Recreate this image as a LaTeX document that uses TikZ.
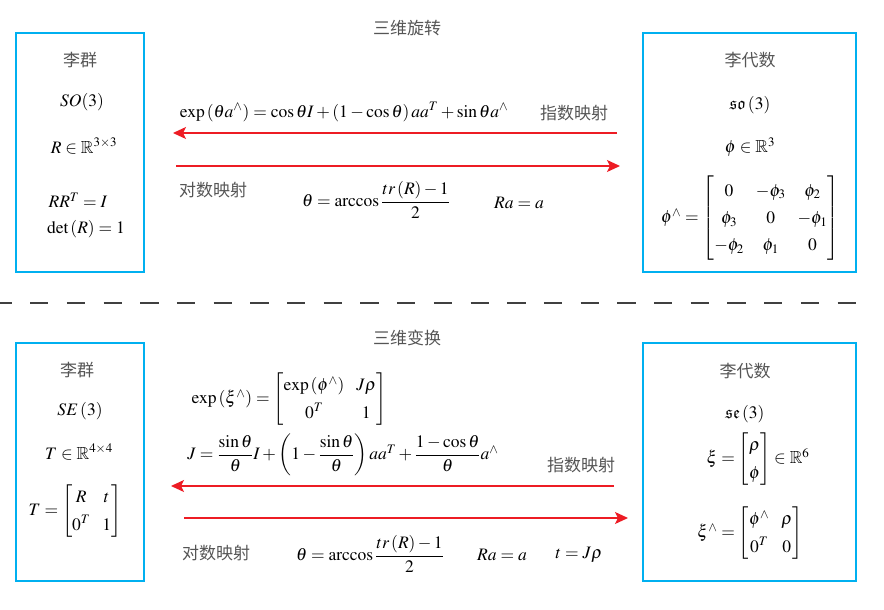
\documentclass[tikz,border=0pt]{standalone}
\usepackage{amsmath,amssymb}
\usepackage{mathptmx}
\usepackage{xcolor}
\usepackage{fontspec}
\setmainfont{Liberation Serif}
\newfontfamily\cjk{Noto Sans CJK SC}
\usetikzlibrary{arrows.meta,positioning}
\definecolor{boxblue}{RGB}{0,176,240}
\definecolor{mapred}{RGB}{237,28,36}
\definecolor{txtgray}{RGB}{85,85,85}
\renewcommand{\arraystretch}{1.3}
\setlength{\arraycolsep}{6pt}
\tikzset{
	>={Stealth[length=13pt,width=12pt,inset=3pt]},
	liebox/.style = {
			draw            = boxblue,
			line width      = 1.5pt,
			inner sep       = 0pt,
		},
	cn/.style = {
			font = \cjk\fontsize{17}{20}\selectfont,
			text = txtgray,
			inner sep = 0pt,
		},
	eq/.style = {
			font = \fontsize{17.5}{21}\selectfont,
			inner sep = 0pt,
		},
	maparrow/.style = {->, draw = mapred, line width = 1.3pt},
}

\begin{document}
\begin{tikzpicture}[x=1pt,y=-1pt]
	\useasboundingbox (0,0) rectangle (884,610);

	\node[liebox, minimum width=128pt, minimum height=239pt] (soBox) at (80,152.5) {};
	\node[liebox, minimum width=213pt, minimum height=239pt] (soaBox) at (749.5,152.5) {};
	\node[liebox, minimum width=128pt, minimum height=238pt] (seBox) at (80,462) {};
	\node[liebox, minimum width=213pt, minimum height=238pt] (seaBox) at (749.5,462) {};

	\coordinate (sepL) at (0,303);
	\coordinate (sepR) at (866,303);
	\draw[line width=1.5pt, color=black!75, dash pattern=on 18.3pt off 18.4pt, dash phase=6.6pt] (sepL) -- (sepR);

	% SO(3) <-> so(3)
	\node[cn] (rotTitle) at (407,28) {三维旋转};
	\node[cn] (soName) at (80,60) {李群};
	\node[eq] (soSym) at (82,102) {$SO(3)$};
	\node[eq] (soSet) at (84,146) {$R\in\mathbb{R}^{3\times3}$};
	\node[eq] (soOrth) at (78,200) {$RR^{T}=I$};
	\node[eq] (soDet) at (86,229) {$\det\left(R\right)=1$};

	\node[cn] (soaName) at (750,60) {李代数};
	\node[eq] (soaSym) at (750,105) {$\mathfrak{so}\left(3\right)$};
	\node[eq] (soaSet) at (750,147) {$\phi\in\mathbb{R}^{3}$};
	\node[eq] (soaHat) at (750,218) {$\phi^{\wedge}=\begin{bmatrix}0 & -\phi_3 & \phi_2\\ \phi_3 & 0 & -\phi_1\\ -\phi_2 & \phi_1 & 0\end{bmatrix}$};

	\node[eq] (rotExp) at (344,112) {$\exp\left(\theta a^{\wedge}\right)=\cos\theta I+\left(1-\cos\theta\right)aa^{T}+\sin\theta a^{\wedge}$};
	\node[cn] (rotExpLbl) at (574,113) {指数映射};
	\coordinate (rotExpS) at (617,133);
	\coordinate (rotExpE) at (173,133);
	\draw[maparrow] (rotExpS) -- (rotExpE);
	\coordinate (rotLogS) at (176,166);
	\coordinate (rotLogE) at (620,166);
	\draw[maparrow] (rotLogS) -- (rotLogE);
	\node[cn] (rotLogLbl) at (213,190) {对数映射};
	\node[eq] (rotAngle) at (376,200) {$\theta=\arccos\dfrac{tr\left(R\right)-1}{2}$};
	\node[eq] (rotAxis) at (519,203) {$Ra=a$};

	% SE(3) <-> se(3)
	\node[cn] (tfTitle) at (407,338) {三维变换};
	\node[cn] (seName) at (77,370) {李群};
	\node[eq] (seSym) at (80,411) {$SE\left(3\right)$};
	\node[eq] (seSet) at (79,452) {$T\in\mathbb{R}^{4\times4}$};
	\node[eq] (seMat) at (75,511) {$T=\begin{bmatrix}R & t\\ 0^{T} & 1\end{bmatrix}$};

	\node[cn] (seaName) at (745,371) {李代数};
	\node[eq] (seaSym) at (745,414) {$\mathfrak{se}\left(3\right)$};
	\node[eq] (seaSet) at (758,459) {$\xi=\begin{bmatrix}\rho\\ \phi\end{bmatrix}\in\mathbb{R}^{6}$};
	\node[eq] (seaHat) at (750,533) {$\xi^{\wedge}=\begin{bmatrix}\phi^{\wedge} & \rho\\ 0^{T} & 0\end{bmatrix}$};

	\node[eq] (tfExp) at (289,399) {$\exp\left(\xi^{\wedge}\right)=\begin{bmatrix}\exp\left(\phi^{\wedge}\right) & J\rho\\ 0^{T} & 1\end{bmatrix}$};
	\node[eq] (tfJac) at (343,455) {$J=\dfrac{\sin\theta}{\theta}I+\left(1-\dfrac{\sin\theta}{\theta}\right)aa^{T}+\dfrac{1-\cos\theta}{\theta}a^{\wedge}$};
	\node[cn] (tfExpLbl) at (581,465) {指数映射};
	\coordinate (tfExpS) at (614,486);
	\coordinate (tfExpE) at (171,486);
	\draw[maparrow] (tfExpS) -- (tfExpE);
	\coordinate (tfLogS) at (184,518);
	\coordinate (tfLogE) at (628,518);
	\draw[maparrow] (tfLogS) -- (tfLogE);
	\node[cn] (tfLogLbl) at (216,553) {对数映射};
	\node[eq] (tfAngle) at (370,554) {$\theta=\arccos\dfrac{tr\left(R\right)-1}{2}$};
	\node[eq] (tfAxis) at (502,555) {$Ra=a$};
	\node[eq] (tfTrans) at (579,555) {$t=J\rho$};

\end{tikzpicture}
\end{document}
